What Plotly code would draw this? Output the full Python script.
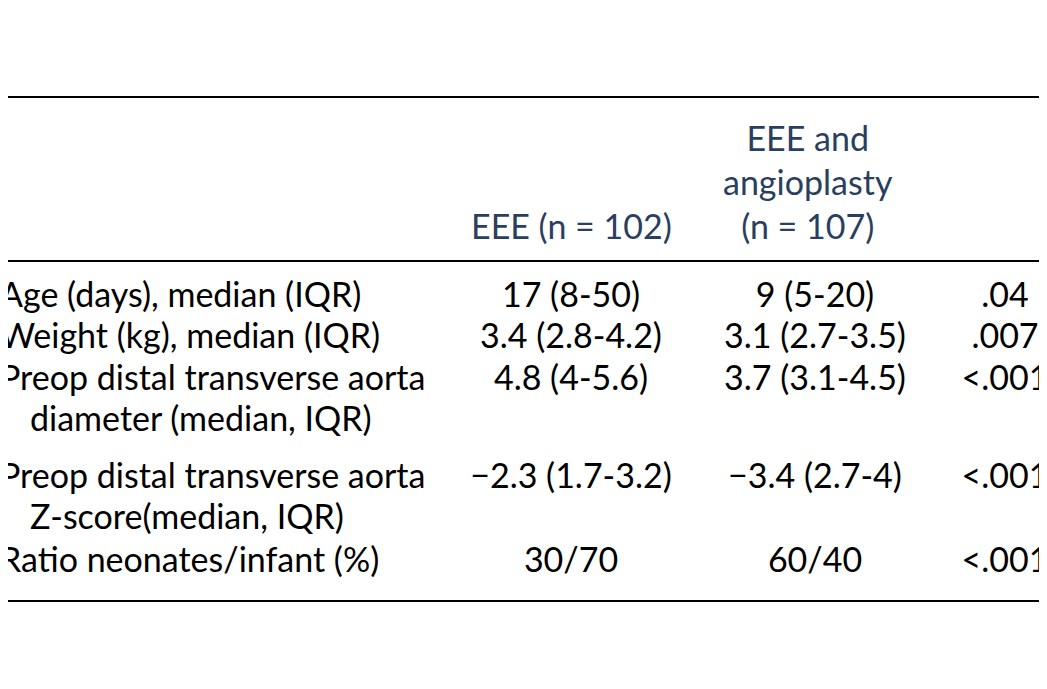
import plotly.graph_objects as go

# table content
title_bold = "Table 2."
title_text = ["Analysis Between End-to-end Extended (EEE) Patients and",
              "Carotid-Subclavian Angioplasty and EEE Patients.<sup>a</sup>"]
col_headers = ["EEE (n = 102)", "EEE and<br>angioplasty<br>(n = 107)", "<i>P</i> value"]
row_labels = ["Age (days), median (IQR)",
              "Weight (kg), median (IQR)",
              "Preop distal transverse aorta",
              "Preop distal transverse aorta",
              "Ratio neonates/infant (%)"]
row_sublabels = ["", "", "diameter (median, IQR)", "Z-score(median, IQR)", ""]
eee_vals = ["17 (8-50)", "3.4 (2.8-4.2)", "4.8 (4-5.6)", "−2.3 (1.7-3.2)", "30/70"]
angio_vals = ["9 (5-20)", "3.1 (2.7-3.5)", "3.7 (3.1-4.5)", "−3.4 (2.7-4)", "60/40"]
p_vals = [".04", ".007", "<.001", "<.001", "<.001"]
footnotes = ["Abbreviations: EEE, end-to-end extended; IQR, interquartile range.",
             "<sup>a</sup>n = 209."]

FONT = "Lato"
FS = 34
W, H = 1047, 689
PAD = 8  # page body margin

# row y positions (pixels from top)
row_y = [298, 339, 381, 479, 563]
sub_dy = 41

fig = go.Figure()

def text_trace(xs, ys, texts, pos):
    fig.add_trace(go.Scatter(x=xs, y=ys, text=texts, mode="text",
                             textposition=pos, hoverinfo="skip",
                             textfont=dict(family=FONT, size=FS, color="black"),
                             showlegend=False))

# row labels
text_trace([0] * len(row_labels), row_y, row_labels, "middle right")
subs = [(s, y + sub_dy) for s, y in zip(row_sublabels, row_y) if s]
text_trace([30] * len(subs), [y for _, y in subs], [s for s, _ in subs], "middle right")

# value columns
text_trace([571] * len(eee_vals), row_y, eee_vals, "middle center")
text_trace([815] * len(angio_vals), row_y, angio_vals, "middle center")
text_trace([1005] * len(p_vals), row_y, p_vals, "middle center")

# headers
fig.add_annotation(x=571, y=225, text=col_headers[0], showarrow=False,
                   xref="x", yref="y", font=dict(family=FONT, size=FS))
fig.add_annotation(x=808, y=248, text=col_headers[1], showarrow=False, yanchor="bottom",
                   xref="x", yref="y", font=dict(family=FONT, size=FS))
fig.add_annotation(x=1045, y=225, text=col_headers[2], showarrow=False, xanchor="right",
                   xref="x", yref="y", font=dict(family=FONT, size=FS))

# title
fig.add_annotation(x=0, y=22, xanchor="left", showarrow=False, xref="x", yref="y",
                   text=f"<b>{title_bold}</b> {title_text[0]}", font=dict(family=FONT, size=FS))
fig.add_annotation(x=0, y=62, xanchor="left", showarrow=False, xref="x", yref="y",
                   text=title_text[1], font=dict(family=FONT, size=FS))

# footnotes
for txt, y in zip(footnotes, [637, 672]):
    fig.add_annotation(x=0, y=y, xanchor="left", showarrow=False, xref="x", yref="y",
                       text=txt, font=dict(family=FONT, size=30))

# rules
for y in [97, 261, 601]:
    fig.add_shape(type="line", x0=0, x1=W, y0=y, y1=y, xref="x", yref="y",
                  line=dict(color="black", width=2))

fig.update_xaxes(range=[PAD, W - PAD], visible=False)
fig.update_yaxes(range=[H - PAD, PAD], visible=False)
fig.update_layout(width=W - 2 * PAD, height=H - 2 * PAD, margin=dict(l=0, r=0, t=0, b=0),
                  plot_bgcolor="white", paper_bgcolor="white")

fig.write_html("out.html")
